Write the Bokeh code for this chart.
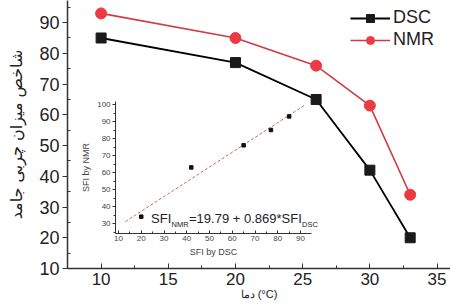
from bokeh.plotting import figure
from bokeh.models import Range1d, LinearAxis, FixedTicker, Label, Legend
from bokeh.embed import file_html
from bokeh.resources import INLINE

# ---- data ----
temps = [10, 20, 26, 30, 33]
sfi_dsc = [85, 77, 65, 42, 20]
sfi_nmr = [93, 85, 76, 63, 34]
x_ticks = [10, 15, 20, 25, 30, 35]
x_minor = [7.5, 12.5, 17.5, 22.5, 27.5, 32.5]
y_ticks = [10, 20, 30, 40, 50, 60, 70, 80, 90]
y_minor = [15, 25, 35, 45, 55, 65, 75, 85, 95]
inset_x_ticks = [10, 20, 30, 40, 50, 60, 70, 80, 90]
inset_x_minor = [15, 25, 35, 45, 55, 65, 75, 85]
inset_y_ticks = [30, 40, 50, 60, 70, 80, 90, 100]
inset_y_minor = [25, 35, 45, 55, 65, 75, 85, 95]
fit_intercept = 19.79
fit_slope = 0.869
fit_x = [13, 92]
fit_y = [fit_intercept + fit_slope * v for v in fit_x]

y_title = "شاخص میزان چربی جامد"
x_title = "دما (°C)"

# ---- layout constants ----
W, H = 450, 304
FL, FR, FT, FB = 67, 450, 0, 268  # frame pixel box
X0, X1, Y0, Y1 = 7.5, 36, 10, 97.2
# inset mapping: pixel = ix0 + (x - 10) * ixs ; pixel = iy0 - (y - 30) * iys
ix0, ixs = 118.0, 2.275
iy0, iys = 223.0, 1.7

FONT = "Liberation Sans"

p = figure(width=W, height=H, title=None,
           x_range=Range1d(X0, X1), y_range=Range1d(Y0, Y1),
           output_backend="svg", toolbar_location=None,
           min_border_left=FL, min_border_right=0, min_border_top=0,
           min_border_bottom=H - FB)
p.outline_line_color = None
p.grid.visible = False
p.background_fill_color = "white"

p.extra_x_ranges = {"ix": Range1d(10 + (FL - ix0) / ixs, 10 + (FR - ix0) / ixs)}
p.extra_y_ranges = {"iy": Range1d(30 - (FB - iy0) / iys, 30 + (iy0 - FT) / iys)}

# main axes
xa = p.xaxis[0]
xa.ticker = FixedTicker(ticks=x_ticks, minor_ticks=x_minor)
xa.major_tick_in = 5
xa.major_tick_out = 0
xa.minor_tick_in = 3
xa.minor_tick_out = 0
xa.major_label_standoff = 4
xa.major_label_text_font = FONT
xa.major_label_text_font_size = "17px"
xa.major_label_text_color = "#222"
xa.axis_line_width = 1.5
xa.axis_line_color = "#333"
xa.major_tick_line_color = "#333"
xa.minor_tick_line_color = "#333"
xa.axis_label = x_title
xa.axis_label_text_font = FONT
xa.axis_label_text_font_size = "11px"
xa.axis_label_text_font_style = "normal"
xa.axis_label_text_color = "#222"
xa.axis_label_standoff = 0

ya = p.yaxis[0]
ya.ticker = FixedTicker(ticks=y_ticks, minor_ticks=y_minor)
ya.major_tick_in = 0
ya.major_tick_out = 5
ya.minor_tick_in = 3
ya.minor_tick_out = 0
ya.major_label_standoff = 3
ya.major_label_text_font = FONT
ya.major_label_text_font_size = "18px"
ya.major_label_text_color = "#222"
ya.axis_line_width = 1.5
ya.axis_line_color = "#333"
ya.major_tick_line_color = "#333"
ya.minor_tick_line_color = "#333"
ya.axis_label = y_title
ya.axis_label_text_font = "DejaVu Sans"
ya.axis_label_text_font_size = "16px"
ya.axis_label_text_font_style = "normal"
ya.axis_label_text_color = "#222"
ya.axis_label_standoff = 10

# main series
r1 = p.line(temps, sfi_dsc, line_color="black", line_width=1.8)
r2 = p.scatter(temps, sfi_dsc, marker="square", size=10, fill_color="#1a1a1a", line_color="#1a1a1a")
r3 = p.line(temps, sfi_nmr, line_color="#d23a44", line_width=1.6)
r4 = p.scatter(temps, sfi_nmr, marker="circle", size=11, fill_color="#ec3a44", line_color="#ec3a44")

legend = Legend(items=[("DSC", [r1, r2]), ("NMR", [r3, r4])],
                location=(283, 218), orientation="vertical",
                border_line_color=None, background_fill_alpha=0,
                padding=0, margin=0, spacing=1,
                glyph_width=40, glyph_height=20, label_height=20,
                label_standoff=3, label_text_font=FONT,
                label_text_font_size="18px", label_text_color="#222")
p.add_layout(legend)

# ---- inset ----
ix_lo, ix_hi = 8.7, 95
iy_lo, iy_hi = 24.1, 102

iax = LinearAxis(x_range_name="ix", y_range_name="iy", fixed_location=iy_lo,
                 bounds=(ix_lo, ix_hi),
                 ticker=FixedTicker(ticks=inset_x_ticks, minor_ticks=inset_x_minor))
iay = LinearAxis(x_range_name="ix", y_range_name="iy", fixed_location=ix_lo,
                 bounds=(iy_lo, iy_hi),
                 ticker=FixedTicker(ticks=inset_y_ticks, minor_ticks=inset_y_minor))
for ax in (iax, iay):
    ax.axis_line_color = "#333"
    ax.axis_line_width = 1
    ax.major_tick_line_color = "#333"
    ax.minor_tick_line_color = "#333"
    ax.major_label_text_font = FONT
    ax.major_label_text_font_size = "8px"
    ax.major_label_text_color = "#444"
    ax.axis_label_text_font = FONT
    ax.axis_label_text_font_size = "9px"
    ax.axis_label_text_font_style = "normal"
    ax.axis_label_text_color = "#444"
iax.major_tick_in = 3
iax.major_tick_out = 0
iax.minor_tick_in = 2
iax.minor_tick_out = 0
iax.major_label_standoff = 2
iax.axis_label = "SFI by DSC"
iax.axis_label_standoff = 3
iay.major_tick_in = 0
iay.major_tick_out = 3
iay.minor_tick_in = 0
iay.minor_tick_out = 2
iay.major_label_standoff = 2
iay.axis_label = "SFI by NMR"
iay.axis_label_standoff = 3
p.add_layout(iax, "below")
p.add_layout(iay, "left")

p.line(fit_x, fit_y, x_range_name="ix", y_range_name="iy",
       line_color="#c9666c", line_width=1, line_dash="3 2")
p.scatter(sfi_dsc, sfi_nmr, x_range_name="ix", y_range_name="iy",
          marker="square", size=3.5, fill_color="#111", line_color="#111")

# equation text: SFI_NMR = 19.79 + 0.869*SFI_DSC
eq_x, eq_y = 24.3, 33
big, small = "13px", "7.5px"
p.add_layout(Label(x=eq_x, y=eq_y, x_range_name="ix", y_range_name="iy",
                   text="SFI", text_font=FONT, text_font_size=big, text_color="#222",
                   text_baseline="middle"))
p.add_layout(Label(x=eq_x, y=eq_y, x_range_name="ix", y_range_name="iy",
                   x_offset=20.5, y_offset=-6,
                   text="NMR", text_font=FONT, text_font_size=small, text_color="#222",
                   text_baseline="middle"))
p.add_layout(Label(x=eq_x, y=eq_y, x_range_name="ix", y_range_name="iy",
                   x_offset=38, text="=19.79 + 0.869*SFI", text_font=FONT,
                   text_font_size=big, text_color="#222", text_baseline="middle"))
p.add_layout(Label(x=eq_x, y=eq_y, x_range_name="ix", y_range_name="iy",
                   x_offset=151, y_offset=-6,
                   text="DSC", text_font=FONT, text_font_size=small, text_color="#222",
                   text_baseline="middle"))

open("out.html", "w").write(file_html(p, INLINE))
